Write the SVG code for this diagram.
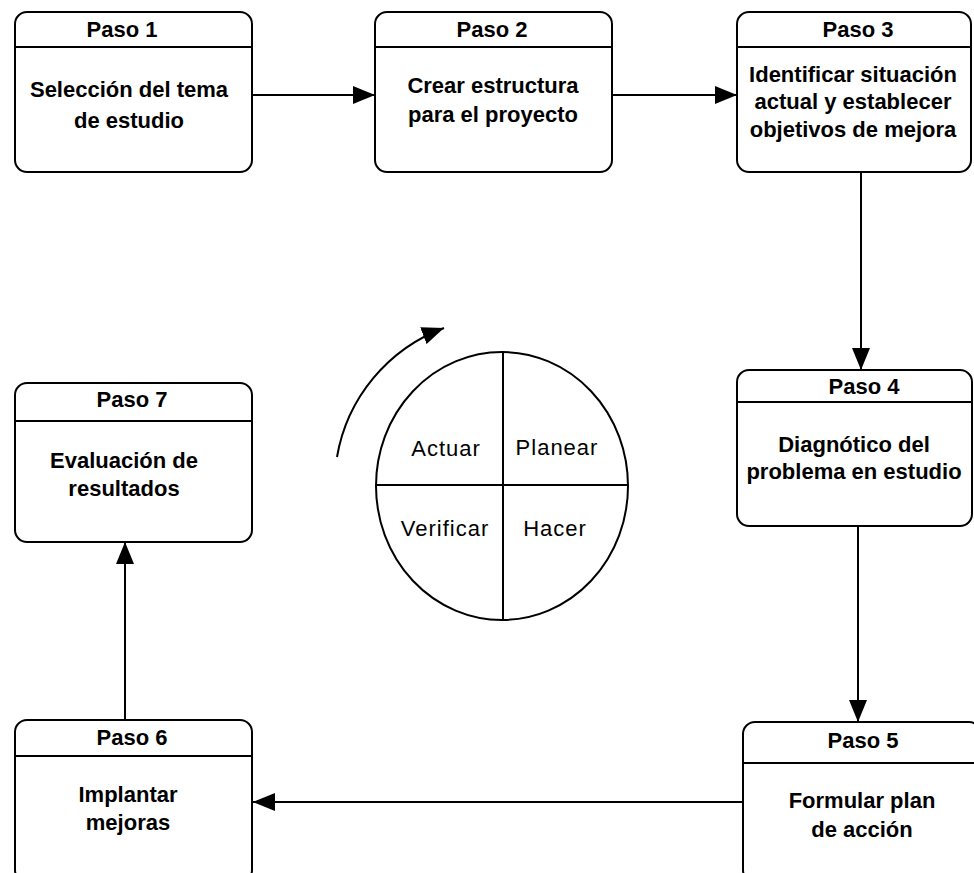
<svg xmlns="http://www.w3.org/2000/svg" width="974" height="873" viewBox="0 0 974 873">
<style>
.box{fill:#fff;stroke:#000;stroke-width:2}
.hl{stroke:#000;stroke-width:2}
.t{font-family:"Liberation Sans",Arial,sans-serif;font-weight:bold;font-size:22px;text-anchor:middle;fill:#000}
.c{font-family:"Liberation Sans",Arial,sans-serif;font-size:22px;letter-spacing:1px;text-anchor:middle;fill:#000}
.ln{fill:none;stroke:#000;stroke-width:2}
</style>
<defs>
<marker id="ah" viewBox="0 0 22 18" refX="22" refY="9" markerWidth="22" markerHeight="18" markerUnits="userSpaceOnUse" orient="auto">
<path d="M0,0 L22,9 L0,18 z" fill="#000"/>
</marker>
</defs>
<rect width="974" height="873" fill="#fff"/>
<g id="connectors">
<line class="ln" x1="253" y1="95" x2="375" y2="95" marker-end="url(#ah)"/>
<line class="ln" x1="612" y1="95" x2="737" y2="95" marker-end="url(#ah)"/>
<line class="ln" x1="861" y1="172" x2="861" y2="370" marker-end="url(#ah)"/>
<line class="ln" x1="858" y1="526" x2="858" y2="722" marker-end="url(#ah)"/>
<line class="ln" x1="743" y1="802" x2="253" y2="802" marker-end="url(#ah)"/>
<line class="ln" x1="125" y1="720" x2="125" y2="542" marker-end="url(#ah)"/>
<path class="ln" d="M337,457 A168,168 0 0,1 444,328" marker-end="url(#ah)"/>
</g>
<g id="paso1">
<rect class="box" x="15" y="12" width="237" height="160" rx="12"/>
<line class="hl" x1="15" y1="47" x2="252" y2="47"/>
<text class="t" x="122" y="37">Paso 1</text>
<text class="t" x="129" y="97">Selección del tema</text>
<text class="t" x="129" y="128">de estudio</text>
</g>
<g id="paso2">
<rect class="box" x="375" y="12" width="237" height="160" rx="12"/>
<line class="hl" x1="375" y1="47" x2="612" y2="47"/>
<text class="t" x="492" y="37">Paso 2</text>
<text class="t" x="493" y="93">Crear estructura</text>
<text class="t" x="493" y="122">para el proyecto</text>
</g>
<g id="paso3">
<rect class="box" x="737" y="12" width="234" height="160" rx="12"/>
<line class="hl" x1="737" y1="47" x2="971" y2="47"/>
<text class="t" x="858" y="37">Paso 3</text>
<text class="t" x="853" y="82">Identificar situación</text>
<text class="t" x="853" y="109">actual y establecer</text>
<text class="t" x="853" y="137">objetivos de mejora</text>
</g>
<g id="paso4">
<rect class="box" x="737" y="370" width="235" height="156" rx="12"/>
<line class="hl" x1="737" y1="402" x2="972" y2="402"/>
<text class="t" x="864" y="394">Paso 4</text>
<text class="t" x="854" y="452">Diagnótico del</text>
<text class="t" x="854" y="479">problema en estudio</text>
</g>
<g id="paso5">
<rect class="box" x="743" y="722" width="238" height="160" rx="12"/>
<line class="hl" x1="743" y1="763" x2="981" y2="763"/>
<text class="t" x="863" y="748">Paso 5</text>
<text class="t" x="862" y="808">Formular plan</text>
<text class="t" x="862" y="837">de acción</text>
</g>
<g id="paso6">
<rect class="box" x="15" y="720" width="237" height="162" rx="12"/>
<line class="hl" x1="15" y1="756" x2="252" y2="756"/>
<text class="t" x="132" y="745">Paso 6</text>
<text class="t" x="128" y="802">Implantar</text>
<text class="t" x="128" y="830">mejoras</text>
</g>
<g id="paso7">
<rect class="box" x="15" y="383" width="237" height="159" rx="12"/>
<line class="hl" x1="15" y1="421" x2="252" y2="421"/>
<text class="t" x="132" y="407">Paso 7</text>
<text class="t" x="124" y="468">Evaluación de</text>
<text class="t" x="124" y="496">resultados</text>
</g>
<g id="ciclo">
<ellipse cx="502" cy="486" rx="126" ry="134" fill="#fff" stroke="#000" stroke-width="2"/>
<line class="hl" x1="503" y1="352" x2="503" y2="620"/>
<line class="hl" x1="376" y1="485" x2="628" y2="485"/>
<text class="c" x="446" y="456">Actuar</text>
<text class="c" x="557" y="455">Planear</text>
<text class="c" x="445" y="536">Verificar</text>
<text class="c" x="555" y="536">Hacer</text>
</g>
</svg>
